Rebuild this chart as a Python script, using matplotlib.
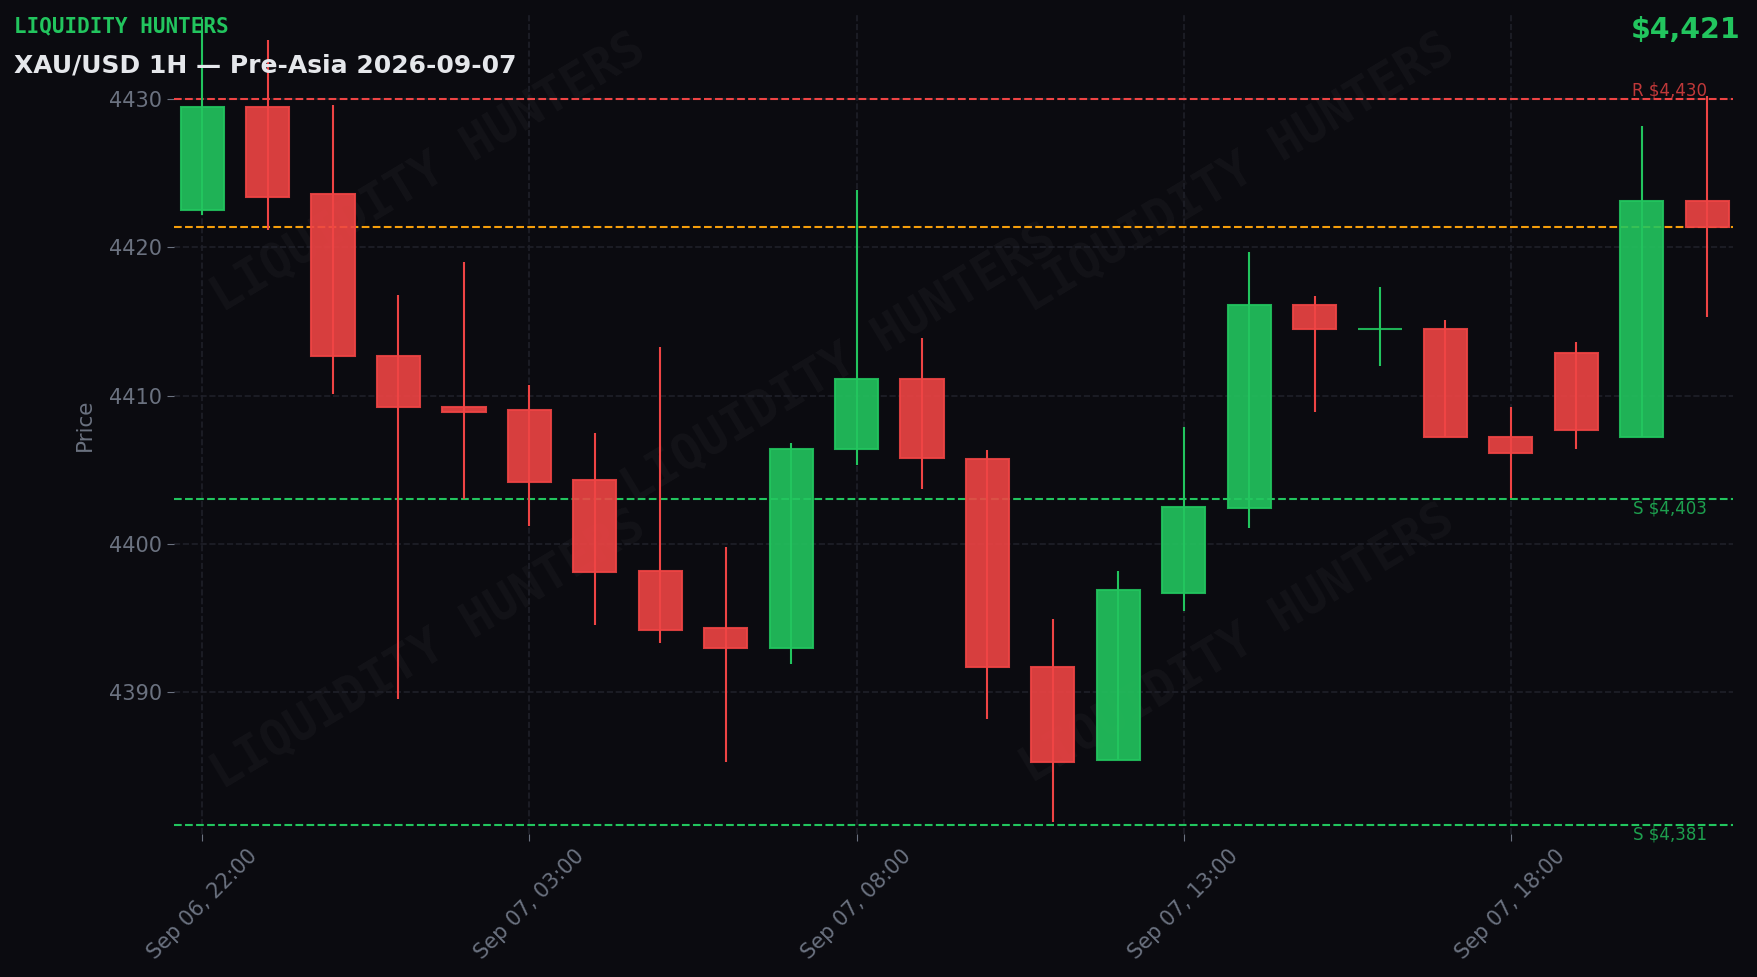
import numpy as np
import pandas as pd
import matplotlib
matplotlib.use("Agg")
from matplotlib import pyplot as plt
import matplotlib.dates as mdates

times = pd.date_range("2026-09-06 22:00", periods=24, freq="h")
opens = [4422.5, 4429.5, 4423.6, 4412.7, 4409.2, 4409.0, 4404.3, 4398.2, 4394.3, 4393.0,
         4406.4, 4411.1, 4405.7, 4391.7, 4385.4, 4396.7, 4402.4, 4416.1, 4414.5, 4414.5,
         4407.2, 4412.9, 4407.2, 4423.1]
highs = [4435.4, 4434.0, 4429.6, 4416.8, 4419.0, 4410.7, 4407.5, 4413.3, 4399.8, 4406.8,
         4423.9, 4413.9, 4406.3, 4394.9, 4398.2, 4407.9, 4419.7, 4416.7, 4417.3, 4415.1,
         4409.2, 4413.6, 4428.2, 4430.2]
lows = [4422.2, 4421.2, 4410.1, 4389.5, 4403.0, 4401.2, 4394.5, 4393.3, 4385.3, 4391.9,
        4405.3, 4403.7, 4388.2, 4381.2, 4385.4, 4395.5, 4401.1, 4408.9, 4412.0, 4407.2,
        4403.1, 4406.4, 4407.2, 4415.3]
closes = [4429.5, 4423.4, 4412.7, 4409.2, 4408.9, 4404.2, 4398.1, 4394.2, 4393.0, 4406.4,
          4411.1, 4405.8, 4391.7, 4385.3, 4396.9, 4402.5, 4416.1, 4414.5, 4414.5, 4407.2,
          4406.1, 4407.7, 4423.1, 4421.4]

resistance = 4430
supports = [4403, 4381]
last_price = 4421.4

BG = "#0b0b10"
GREEN = "#22c55e"
RED = "#ef4444"
ORANGE = "#f59e0b"
GRID = "#1f2029"
MUTED = "#6b7280"

fig = plt.figure(figsize=(17.58, 9.77), dpi=100, facecolor=BG)
ax = fig.add_axes([0.099, 0.146, 0.887, 0.839])
ax.set_facecolor(BG)

x = mdates.date2num(times)
w = 0.66 / 24
for xi, o, h, l, c in zip(x, opens, highs, lows, closes):
    col = GREEN if c >= o else RED
    ax.vlines(xi, l, h, color=col, linewidth=1.5, zorder=2)
    ax.bar(xi, c - o if c != o else 0.0, bottom=o, width=w, color=col, alpha=0.9,
           edgecolor=col, linewidth=1.5, zorder=3)

ax.axhline(resistance, color=RED, linestyle="--", linewidth=1.5, zorder=1.8)
for s in supports:
    ax.axhline(s, color=GREEN, linestyle="--", linewidth=1.5, zorder=1.8)
ax.axhline(last_price, color=ORANGE, linestyle="--", linewidth=1.5, zorder=1.8)

ax.text(x[-1], resistance, f"R ${resistance:,}", color=RED, alpha=0.8, fontsize=12,
        ha="right", va="bottom")
for s in supports:
    ax.text(x[-1], s, f"S ${s:,}", color=GREEN, alpha=0.8, fontsize=12, ha="right", va="top")

ax.set_xlim(x[0] - 0.43 / 24, x[-1] + 0.4 / 24)
ax.set_ylim(4380.4, 4435.7)
ax.set_xticks(x[::5])
ax.xaxis.set_major_formatter(mdates.DateFormatter("%b %d, %H:%M"))
plt.setp(ax.get_xticklabels(), rotation=45, ha="center")
ax.tick_params(colors=MUTED, labelsize=15, length=5)
ax.set_ylabel("Price", color=MUTED, fontsize=15.5, labelpad=10)
ax.grid(True, color=GRID, linestyle="--", linewidth=1.2)
for sp in ax.spines.values():
    sp.set_visible(False)

# watermark
for fx, fy in [(0.163, 0.807), (0.682, 0.807), (0.427, 0.574), (0.163, 0.225), (0.682, 0.232)]:
    ax.text(fx, fy, "LIQUIDITY HUNTERS", transform=ax.transAxes, fontsize=35,
            family="DejaVu Sans Mono", fontweight="bold", color="white", alpha=0.035,
            rotation=31, ha="center", va="center", zorder=0)

fig.text(0.008, 0.973, "LIQUIDITY HUNTERS", color=GREEN, fontsize=15, family="DejaVu Sans Mono",
         fontweight="bold", ha="left", va="center")
fig.text(0.008, 0.933, "XAU/USD 1H — Pre-Asia 2026-09-07", color="#e5e7eb", fontsize=18,
         fontweight="bold", ha="left", va="center")
fig.text(0.99, 0.969, f"${last_price:,.0f}", color=GREEN, fontsize=20.5, fontweight="bold",
         ha="right", va="center")

fig.savefig("out.png", dpi=100, facecolor=BG)
